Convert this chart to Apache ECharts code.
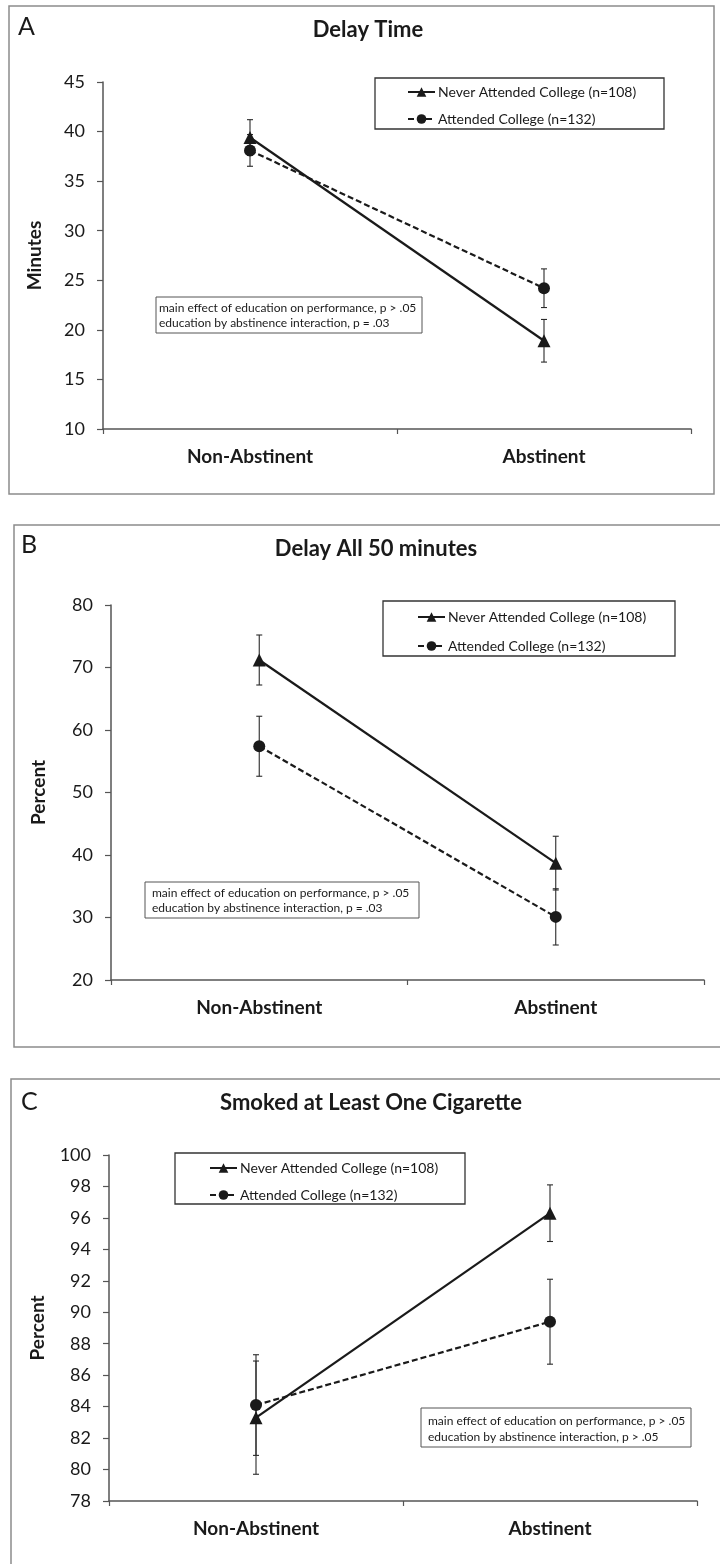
<!DOCTYPE html>
<html>
<head>
<meta charset="utf-8">
<script src="https://cdn.jsdelivr.net/npm/echarts@6/dist/echarts.min.js"></script>
<style>
  html, body { margin: 0; padding: 0; background: #ffffff; }
  #chart { width: 720px; height: 1564px; }
</style>
</head>
<body>
<div id="chart"></div>
<script>
// ---- data ----
const categories = ['Non-Abstinent', 'Abstinent'];
const seriesNames = ['Never Attended College (n=108)', 'Attended College (n=132)'];

const panelLetters = ['A', 'B', 'C'];
const panelTitles = ['Delay Time', 'Delay All 50 minutes', 'Smoked at Least One Cigarette'];
const yAxisNames = ['Minutes', 'Percent', 'Percent'];

const yMin = [10, 20, 78];
const yMax = [45, 80, 100];
const yStep = [5, 10, 2];

// Panel A: Delay Time (minutes)
const delayNever = [39.4, 18.9];
const delayNeverErr = [1.8, 2.15];
const delayAttended = [38.1, 24.2];
const delayAttendedErr = [1.6, 1.95];

// Panel B: Delay all 50 minutes (percent)
const allNever = [71.2, 38.7];
const allNeverErr = [4.0, 4.3];
const allAttended = [57.4, 30.1];
const allAttendedErr = [4.8, 4.5];

// Panel C: Smoked at least one cigarette (percent)
const smokedNever = [83.3, 96.3];
const smokedNeverErr = [3.6, 1.8];
const smokedAttended = [84.1, 89.4];
const smokedAttendedErr = [3.2, 2.7];

const statNotes = [
  'main effect of education on performance, p > .05\neducation by abstinence interaction, p = .03',
  'main effect of education on performance, p > .05\neducation by abstinence interaction, p = .03',
  'main effect of education on performance, p > .05\neducation by abstinence interaction, p > .05'
];

const panelNever = [delayNever, allNever, smokedNever];
const panelNeverErr = [delayNeverErr, allNeverErr, smokedNeverErr];
const panelAttended = [delayAttended, allAttended, smokedAttended];
const panelAttendedErr = [delayAttendedErr, allAttendedErr, smokedAttendedErr];

// ---- layout (pixels) ----
const FONT = 'Lato, "Open Sans", "Noto Sans", sans-serif';
const INK = '#1a1a1a';
const grids = [
  { left: 103, top: 82, width: 588, height: 347 },
  { left: 111, top: 605, width: 593, height: 375 },
  { left: 109, top: 1155, width: 588, height: 346 }
];
const nameGaps = [59, 63, 62];
const frames = [
  { x: 9, y: 6, width: 705, height: 488 },
  { x: 14, y: 525, width: 720, height: 522 },
  { x: 11, y: 1079, width: 720, height: 500 }
];
const letterPos = [[18, 27], [21, 545], [21, 1102]];
const titlePos = [[368, 30], [376, 549], [371, 1103]];
const legendBoxes = [
  { x: 375, y: 78, width: 289, height: 51, itemLeft: 407, itemTop: 85, gap: 13 },
  { x: 383, y: 601, width: 292, height: 55, itemLeft: 417, itemTop: 610, gap: 15 },
  { x: 175, y: 1153, width: 290, height: 51, itemLeft: 209, itemTop: 1161, gap: 13 }
];
const noteBoxes = [
  { x: 156, y: 297, width: 266, height: 36, tx: 159, ty: 301, lh: 15 },
  { x: 145, y: 882, width: 274, height: 36, tx: 152, ty: 886, lh: 15 },
  { x: 421, y: 1408, width: 270, height: 39, tx: 428, ty: 1413, lh: 16 }
];

function errBarRender(params, api) {
  const xi = api.value(0);
  const v = api.value(1);
  const e = api.value(2);
  const top = api.coord([xi, v + e]);
  const bot = api.coord([xi, v - e]);
  const hw = 3;
  const st = { stroke: '#2a2a2a', lineWidth: 1.1 };
  return {
    type: 'group',
    children: [
      { type: 'line', shape: { x1: top[0], y1: top[1], x2: bot[0], y2: bot[1] }, style: st },
      { type: 'line', shape: { x1: top[0] - hw, y1: top[1], x2: top[0] + hw, y2: top[1] }, style: st },
      { type: 'line', shape: { x1: bot[0] - hw, y1: bot[1], x2: bot[0] + hw, y2: bot[1] }, style: st }
    ]
  };
}

const option = {
  animation: false,
  backgroundColor: '#ffffff',
  grid: grids.map(g => ({ left: g.left, top: g.top, width: g.width, height: g.height, containLabel: false })),
  xAxis: grids.map((g, i) => ({
    type: 'category',
    gridIndex: i,
    data: categories,
    boundaryGap: true,
    axisLine: { show: true, lineStyle: { color: '#555', width: 1.5 } },
    axisTick: { show: true, length: 5, inside: false, lineStyle: { color: '#555', width: 1.2 } },
    axisLabel: { margin: 18, fontFamily: FONT, fontSize: 19, fontWeight: 'bold', color: INK },
    splitLine: { show: false }
  })),
  yAxis: grids.map((g, i) => ({
    type: 'value',
    gridIndex: i,
    min: yMin[i],
    max: yMax[i],
    interval: yStep[i],
    name: yAxisNames[i],
    nameLocation: 'middle',
    nameGap: nameGaps[i],
    nameRotate: 90,
    nameTextStyle: { fontFamily: FONT, fontSize: 19, fontWeight: 'bold', color: INK },
    axisLine: { show: true, lineStyle: { color: '#555', width: 1.5 } },
    axisTick: { show: true, length: 6, inside: false, lineStyle: { color: '#555', width: 1.2 } },
    axisLabel: { margin: 18, fontFamily: FONT, fontSize: 18, color: INK },
    splitLine: { show: false }
  })),
  legend: legendBoxes.map(b => ({
    left: b.itemLeft,
    top: b.itemTop,
    orient: 'vertical',
    padding: 0,
    itemWidth: 27,
    itemHeight: 12,
    itemGap: b.gap,
    selectedMode: false,
    data: [seriesNames[0], seriesNames[1]],
    textStyle: { fontFamily: FONT, fontSize: 14, color: INK, padding: [0, 0, 0, -2] }
  })),
  graphic: [],
  series: []
};

for (let i = 0; i < 3; i++) {
  option.series.push({
    name: seriesNames[0] + ' error',
    type: 'custom',
    xAxisIndex: i, yAxisIndex: i,
    renderItem: errBarRender,
    encode: { x: 0, y: 1 },
    data: panelNever[i].map((v, k) => [k, v, panelNeverErr[i][k]]),
    z: 2,
    silent: true
  });
  option.series.push({
    name: seriesNames[1] + ' error',
    type: 'custom',
    xAxisIndex: i, yAxisIndex: i,
    renderItem: errBarRender,
    encode: { x: 0, y: 1 },
    data: panelAttended[i].map((v, k) => [k, v, panelAttendedErr[i][k]]),
    z: 2,
    silent: true
  });
  option.series.push({
    name: seriesNames[1],
    type: 'line',
    xAxisIndex: i, yAxisIndex: i,
    data: panelAttended[i],
    symbol: 'circle',
    symbolSize: 12,
    color: INK,
    itemStyle: { color: INK },
    lineStyle: { color: INK, width: 2.2, type: [6, 3] },
    z: 3
  });
  option.series.push({
    name: seriesNames[0],
    type: 'line',
    xAxisIndex: i, yAxisIndex: i,
    data: panelNever[i],
    symbol: 'triangle',
    symbolSize: 13,
    color: INK,
    itemStyle: { color: INK },
    lineStyle: { color: INK, width: 2.2, type: 'solid' },
    z: 4
  });
}

for (let i = 0; i < 3; i++) {
  const f = frames[i];
  option.graphic.push({
    type: 'rect', shape: { x: f.x, y: f.y, width: f.width, height: f.height },
    style: { fill: 'none', stroke: '#8c8c8c', lineWidth: 1.5 }, z: 0, silent: true
  });
  option.graphic.push({
    type: 'text', x: letterPos[i][0], y: letterPos[i][1],
    style: { text: panelLetters[i], font: '25px ' + FONT, fill: INK, textVerticalAlign: 'middle' }, silent: true
  });
  option.graphic.push({
    type: 'text', x: titlePos[i][0], y: titlePos[i][1],
    style: { text: panelTitles[i], font: 'bold 22px ' + FONT, fill: INK, textAlign: 'center', textVerticalAlign: 'middle' }, silent: true
  });
  const lb = legendBoxes[i];
  option.graphic.push({
    type: 'rect', shape: { x: lb.x, y: lb.y, width: lb.width, height: lb.height },
    style: { fill: 'none', stroke: '#333', lineWidth: 1.3 }, z: 1, silent: true
  });
  const nb = noteBoxes[i];
  option.graphic.push({
    type: 'rect', shape: { x: nb.x, y: nb.y, width: nb.width, height: nb.height },
    style: { fill: '#ffffff', stroke: '#555', lineWidth: 1 }, z: 1, silent: true
  });
  option.graphic.push({
    type: 'text', x: nb.tx, y: nb.ty, z: 2,
    style: { text: statNotes[i], font: '12px ' + FONT, fill: INK, lineHeight: nb.lh, textVerticalAlign: 'top' }, silent: true
  });
}

const chart = echarts.init(document.getElementById('chart'), null, { width: 720, height: 1564 });
chart.setOption(option);
</script>
</body>
</html>
